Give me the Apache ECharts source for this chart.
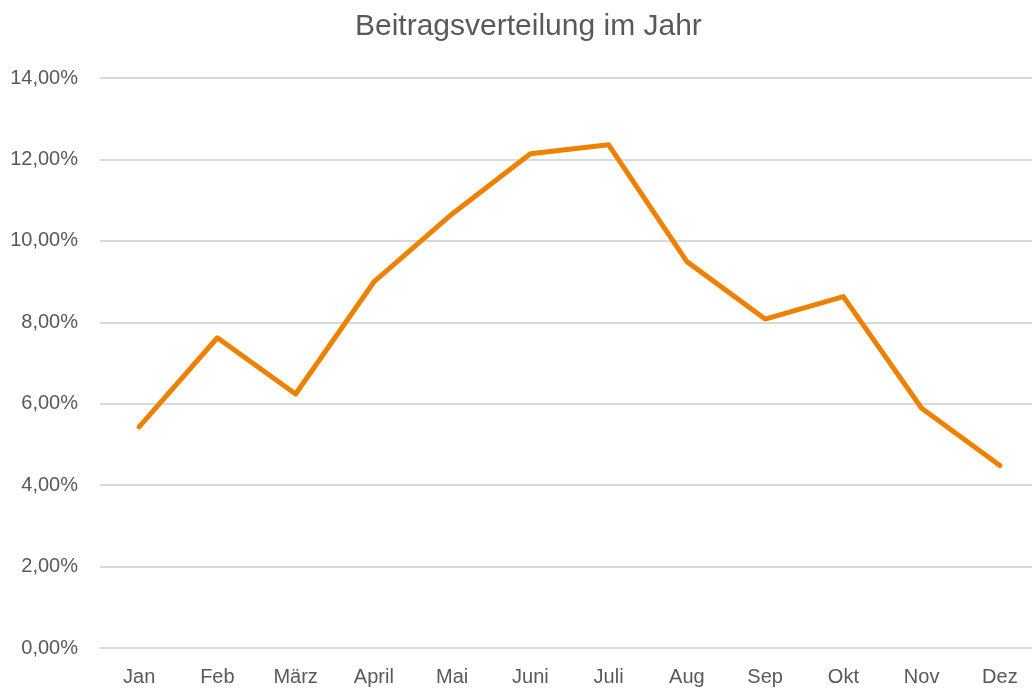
<!DOCTYPE html>
<html>
<head>
<meta charset="utf-8">
<script src="https://cdn.jsdelivr.net/npm/echarts@6/dist/echarts.min.js"></script>
<style>
html,body{margin:0;padding:0;background:#fff;overflow:hidden;width:1032px;height:688px;}
#chart{width:1040px;height:688px;}
</style>
</head>
<body>
<div id="chart"></div>
<script>
const titleText = "Beitragsverteilung im Jahr";
const categories = ["Jan","Feb","März","April","Mai","Juni","Juli","Aug","Sep","Okt","Nov","Dez"];
const values = [5.43, 7.62, 6.24, 8.99, 10.66, 12.14, 12.36, 9.49, 8.08, 8.63, 5.89, 4.48];
const yMin = 0, yMax = 14, yStep = 2;

const font = "'Liberation Sans Narrow', 'Arial Narrow', 'Liberation Sans', sans-serif";
const chart = echarts.init(document.getElementById('chart'));
chart.setOption({
  animation: false,
  backgroundColor: '#ffffff',
  title: {
    text: titleText,
    left: 350,
    top: 7,
    textStyle: { fontFamily: font, fontSize: 30, fontWeight: 'normal', color: '#595959' }
  },
  grid: { left: 100, right: 1, top: 78, bottom: 40, containLabel: false },
  xAxis: {
    type: 'category',
    data: categories,
    boundaryGap: true,
    axisLine: { show: true, lineStyle: { color: '#D9D9D9', width: 2 } },
    axisTick: { show: false },
    axisLabel: { color: '#595959', fontFamily: font, fontSize: 20, margin: 19, interval: 0 }
  },
  yAxis: {
    type: 'value',
    min: yMin, max: yMax, interval: yStep,
    axisLine: { show: false },
    axisTick: { show: false },
    splitLine: { lineStyle: { color: '#D9D9D9', width: 2 } },
    axisLabel: {
      color: '#595959', fontFamily: font, fontSize: 20, margin: 22,
      formatter: v => v.toFixed(2).replace('.', ',') + '%'
    }
  },
  series: [{
    type: 'line',
    data: values,
    symbol: 'none',
    lineStyle: { color: '#EE8200', width: 5, cap: 'round', join: 'round' },
    itemStyle: { color: '#EE8200' }
  }]
});
</script>
</body>
</html>
